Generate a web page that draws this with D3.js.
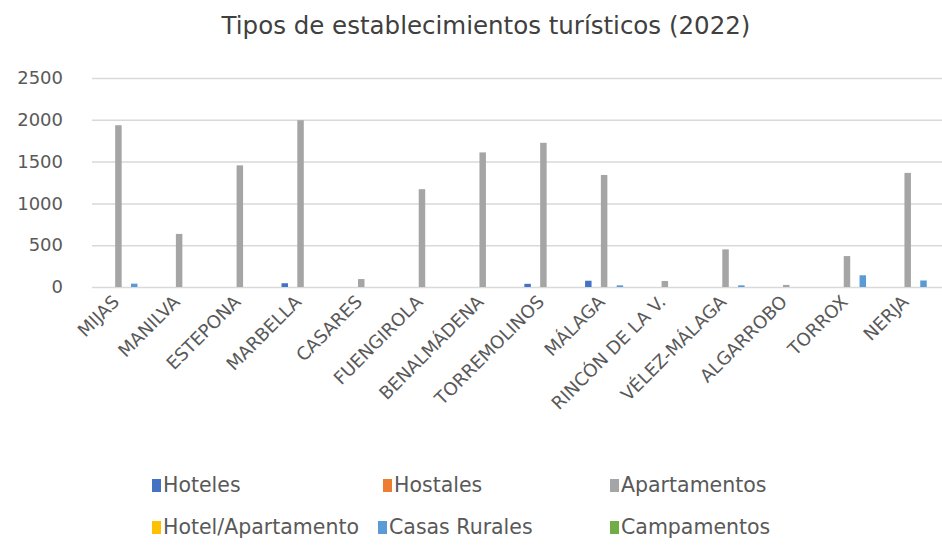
<!DOCTYPE html>
<html>
<head>
<meta charset="utf-8">
<script src="https://cdn.jsdelivr.net/npm/d3@7"></script>
<style>
  body { margin: 0; background: #fff; }
  text { font-family: "DejaVu Sans", sans-serif; fill: #595959; }
</style>
</head>
<body>
<div id="chart"></div>
<script>
// municipios (categorias del eje x)
var municipios = ["MIJAS", "MANILVA", "ESTEPONA", "MARBELLA", "CASARES", "FUENGIROLA",
  "BENALMÁDENA", "TORREMOLINOS", "MÁLAGA", "RINCÓN DE LA V.", "VÉLEZ-MÁLAGA",
  "ALGARROBO", "TORROX", "NERJA"];

var tipos = ["Hoteles", "Hostales", "Apartamentos", "Hotel/Apartamento", "Casas Rurales", "Campamentos"];
var colores = ["#4472C4", "#ED7D31", "#A5A5A5", "#FFC000", "#5B9BD5", "#70AD47"];

// valores
var hoteles          = [0, 0, 0, 45, 0, 0, 0, 38, 75, 0, 0, 0, 0, 0];
var hostales         = [0, 0, 0, 0, 0, 0, 0, 0, 0, 0, 0, 0, 0, 0];
var apartamentos     = [1935, 635, 1455, 1995, 95, 1170, 1610, 1725, 1340, 72, 450, 25, 370, 1365];
var hotelApartamento = [0, 0, 0, 0, 0, 0, 0, 0, 0, 0, 0, 0, 0, 0];
var casasRurales     = [40, 0, 0, 0, 0, 0, 0, 0, 20, 0, 20, 0, 140, 78];
var campamentos      = [0, 0, 0, 0, 0, 0, 0, 0, 0, 0, 0, 0, 0, 0];

var yTicks = [0, 500, 1000, 1500, 2000, 2500];

(function(){
  var width = 942,
    height = 547;

  var series = [hoteles, hostales, apartamentos, hotelApartamento, casasRurales, campamentos];

  var svg = d3.select("#chart")
    .append("svg")
    .attr("width", width)
    .attr("height", height);

  svg.append("rect")
    .attr("width", width)
    .attr("height", height)
    .attr("fill", "#fff");

  var x0 = d3.scaleBand()
    .domain(municipios)
    .range([92, 942])
    .paddingInner(0)
    .paddingOuter(0);

  var groupW = 46;
  var x1 = d3.scaleBand()
    .domain(tipos)
    .range([(x0.bandwidth() - groupW) / 2, (x0.bandwidth() + groupW) / 2])
    .paddingInner(0.18)
    .paddingOuter(0);

  var y = d3.scaleLinear()
    .domain([0, 2500])
    .range([287, 78]);

  // titulo
  svg.append("text")
    .attr("x", 486)
    .attr("y", 34)
    .attr("text-anchor", "middle")
    .style("font-size", "24.5px")
    .style("fill", "#404040")
    .text("Tipos de establecimientos turísticos (2022)");

  // rejilla + etiquetas del eje y
  var yAxis = d3.axisLeft(y)
    .tickValues(yTicks)
    .tickFormat(d3.format("d"))
    .tickSize(-(942 - 92))
    .tickPadding(29);

  var gy = svg.append("g")
    .attr("transform", "translate(92,0)")
    .call(yAxis);
  gy.select(".domain").remove();
  gy.selectAll(".tick line")
    .attr("stroke", "#d9d9d9")
    .attr("stroke-width", 1.5);
  gy.selectAll(".tick text")
    .style("font-size", "18px")
    .style("font-family", "DejaVu Sans, sans-serif")
    .attr("fill", "#595959");

  // barras
  var groups = svg.selectAll(".municipio")
    .data(municipios)
    .enter().append("g")
    .attr("class", "municipio")
    .attr("transform", function(d){ return "translate(" + x0(d) + ",0)"; });

  groups.selectAll("rect")
    .data(function(d, i){
      return tipos.map(function(t, j){ return {tipo: t, value: series[j][i], color: colores[j]}; });
    })
    .enter().append("rect")
    .attr("x", function(d){ return x1(d.tipo); })
    .attr("width", x1.bandwidth())
    .attr("y", function(d){ return y(d.value); })
    .attr("height", function(d){ return y(0) - y(d.value); })
    .attr("fill", function(d){ return d.color; });

  // etiquetas del eje x
  svg.selectAll(".xlabel")
    .data(municipios)
    .enter().append("text")
    .attr("class", "xlabel")
    .attr("text-anchor", "end")
    .style("font-size", "18px")
    .attr("transform", function(d){
      var cx = x0(d) + x0.bandwidth() / 2;
      return "translate(" + (cx - 2) + ",303) rotate(-45)";
    })
    .text(function(d){ return d; });

  // leyenda
  var legendPos = [
    [152, 485], [383, 485], [610, 485],
    [152, 527], [378, 527], [610, 527]
  ];
  var legend = svg.selectAll(".legend")
    .data(tipos)
    .enter().append("g")
    .attr("class", "legend")
    .attr("transform", function(d, i){ return "translate(" + legendPos[i][0] + "," + legendPos[i][1] + ")"; });

  legend.append("rect")
    .attr("x", 0)
    .attr("y", -6)
    .attr("width", 9)
    .attr("height", 13)
    .attr("fill", function(d, i){ return colores[i]; });

  legend.append("text")
    .attr("x", 11)
    .attr("dy", "0.35em")
    .style("font-size", "20.5px")
    .text(function(d){ return d; });
})();
</script>
</body>
</html>
